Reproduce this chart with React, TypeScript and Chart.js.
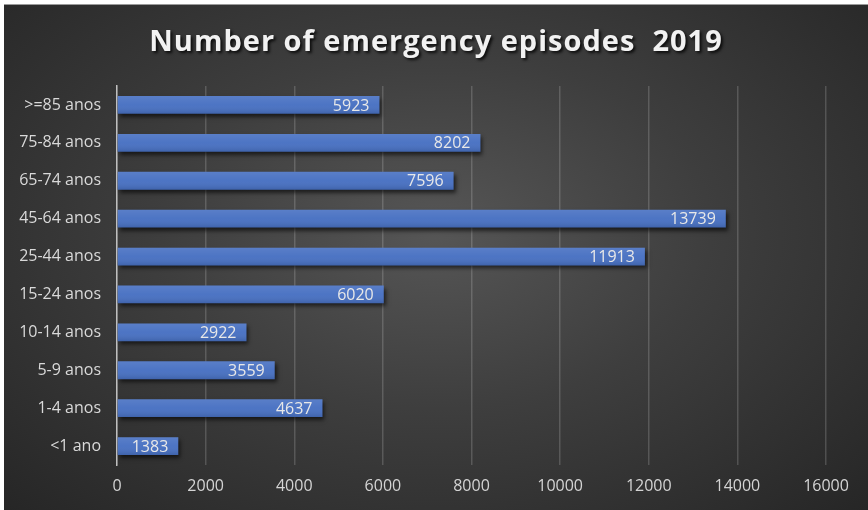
import React, { useEffect, useRef } from "react";
import { Chart, registerables } from "chart.js";

Chart.register(...registerables);

const titleText = "Number of emergency episodes  2019";
const categories = [">=85 anos", "75-84 anos", "65-74 anos", "45-64 anos", "25-44 anos", "15-24 anos", "10-14 anos", "5-9 anos", "1-4 anos", "<1 ano"];
const episodes = [5923, 8202, 7596, 13739, 11913, 6020, 2922, 3559, 4637, 1383];
const xMin = 0;
const xMax = 16000;
const xStep = 2000;

const FONT = "'Open Sans', 'Noto Sans', sans-serif";

const titlePlugin = {
  id: "customTitle",
  afterDraw(chart: any) {
    const ctx = chart.ctx;
    ctx.save();
    ctx.font = `bold 29px ${FONT}`;
    (ctx as any).letterSpacing = "1px";
    ctx.textAlign = "center";
    ctx.textBaseline = "middle";
    ctx.shadowColor = "rgba(0,0,0,0.8)";
    ctx.shadowOffsetX = 2;
    ctx.shadowOffsetY = 2;
    ctx.shadowBlur = 3;
    ctx.fillStyle = "#f2f2f2";
    ctx.fillText(titleText, chart.width / 2, 38);
    ctx.restore();
  },
};

const shadowPlugin = {
  id: "barShadow",
  beforeDatasetsDraw(chart: any) {
    const ctx = chart.ctx;
    ctx.save();
    ctx.shadowColor = "rgba(0,0,0,0.6)";
    ctx.shadowOffsetX = 2;
    ctx.shadowOffsetY = 3;
    ctx.shadowBlur = 4;
  },
  afterDatasetsDraw(chart: any) {
    const ctx = chart.ctx;
    ctx.restore();
    const meta = chart.getDatasetMeta(0);
    const data = chart.data.datasets[0].data;
    meta.data.forEach((bar: any, i: number) => {
      const top = bar.y - bar.height / 2;
      const bottom = bar.y + bar.height / 2;
      const g = ctx.createLinearGradient(0, top, 0, bottom);
      g.addColorStop(0, "rgba(255,255,255,0.10)");
      g.addColorStop(0.5, "rgba(255,255,255,0.03)");
      g.addColorStop(1, "rgba(0,0,0,0.12)");
      ctx.save();
      ctx.fillStyle = g;
      ctx.fillRect(bar.base, top, bar.x - bar.base, bottom - top);
      ctx.font = `16px ${FONT}`;
      ctx.fillStyle = "#e8e8e8";
      ctx.textAlign = "right";
      ctx.textBaseline = "middle";
      ctx.fillText(String(data[i]), bar.x - 10, bar.y + 1);
      ctx.restore();
    });
  },
};

export default function App() {
  const ref = useRef<HTMLCanvasElement | null>(null);
  useEffect(() => {
    document.body.style.margin = "0";
    const chart = new Chart(ref.current as HTMLCanvasElement, {
      type: "bar",
      data: {
        labels: categories,
        datasets: [
          {
            data: episodes,
            backgroundColor: "#4770c2",
            barPercentage: 0.94,
            categoryPercentage: 0.5,
          },
        ],
      },
      options: {
        indexAxis: "y",
        animation: false,
        responsive: false,
        layout: { padding: { top: 81, right: 42, left: 0, bottom: 0 } },
        plugins: { legend: { display: false }, title: { display: false }, tooltip: { enabled: false } },
        scales: {
          x: {
            min: xMin,
            max: xMax,
            ticks: {
              stepSize: xStep,
              color: "#d4d4d4",
              font: { family: FONT, size: 16 },
              padding: 12,
              callback: (v: any) => String(v),
            },
            grid: { color: "rgba(255,255,255,0.17)", drawTicks: false, lineWidth: 1.5 },
            border: { display: false },
            afterFit(scale: any) {
              scale.height = 45;
            },
          },
          y: {
            ticks: { color: "#d9d9d9", font: { family: FONT, size: 16 }, padding: 16 },
            grid: { display: false, drawTicks: false },
            border: { display: true, color: "#bfbfbf", width: 1.5 },
            afterFit(scale: any) {
              scale.width = 113;
            },
          },
        },
      },
      plugins: [titlePlugin, shadowPlugin],
    } as any);
    return () => chart.destroy();
  }, []);
  return (
    <div style={{ width: 868, height: 510, background: "#ffffff", paddingTop: 4, paddingLeft: 4, boxSizing: "border-box" }}>
      <div style={{ width: 864, height: 506, background: "radial-gradient(ellipse at 50% 45%, #565656 0%, #3e3e3e 45%, #262626 100%)", borderTop: "1px solid #9a9a9a", boxSizing: "border-box" }}>
        <canvas ref={ref} width={864} height={505} style={{ display: "block" }} />
      </div>
    </div>
  );
}
